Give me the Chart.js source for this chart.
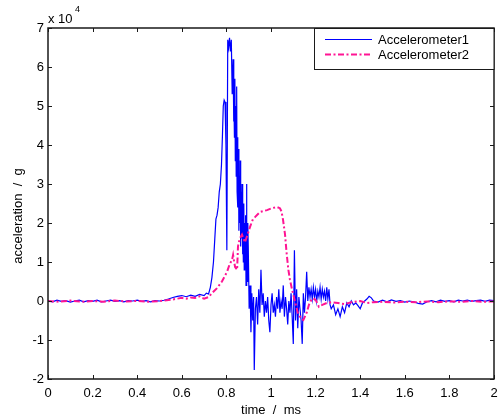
<!DOCTYPE html>
<html>
<head>
<meta charset="utf-8">
<title>Accelerometer traces</title>
<script src="https://cdn.jsdelivr.net/npm/chart.js@4.4.1/dist/chart.umd.min.js"></script>
<style>
  html, body { margin: 0; padding: 0; background: #fff; }
  #chart { display: block; }
</style>
</head>
<body>
<canvas id="chart" width="498" height="419"></canvas>
<script>
// values in units of 1e4 g, time in ms
const blueTime = [
  0.00, 0.02, 0.04, 0.06, 0.08, 0.10, 0.12, 0.14, 0.16, 0.18,
  0.20, 0.22, 0.24, 0.26, 0.28, 0.30, 0.32, 0.34, 0.36, 0.38,
  0.40, 0.42, 0.44, 0.46, 0.48, 0.50, 0.52, 0.54, 0.56, 0.58,
  0.60, 0.62, 0.64, 0.66, 0.68, 0.70, 0.71, 0.72, 0.728, 0.735,
  0.742, 0.748, 0.753, 0.758, 0.763, 0.768, 0.773, 0.778, 0.782, 0.786,
  0.790, 0.794, 0.798, 0.802, 0.806, 0.810, 0.814, 0.818, 0.822, 0.826,
  0.830, 0.832, 0.834, 0.836, 0.838, 0.840, 0.842, 0.844, 0.846, 0.848,
  0.850, 0.852, 0.854, 0.856, 0.858, 0.860, 0.862, 0.864, 0.866, 0.868,
  0.870, 0.872, 0.874, 0.876, 0.878, 0.880, 0.882, 0.884, 0.886, 0.888,
  0.890, 0.892, 0.894, 0.896, 0.898, 0.902, 0.906,
  0.910, 0.914, 0.918, 0.922, 0.925, 0.930, 0.935, 0.940, 0.945, 0.950,
  0.955, 0.960, 0.965, 0.970, 0.975, 0.980, 0.985, 0.990, 0.995, 1.000,
  1.005, 1.010, 1.015, 1.020, 1.025, 1.030, 1.035, 1.040, 1.045, 1.050,
  1.055, 1.060, 1.065, 1.070, 1.075, 1.080, 1.085, 1.090, 1.095, 1.100,
  1.105, 1.110, 1.115, 1.120, 1.125, 1.130, 1.135, 1.140, 1.145, 1.150,
  1.155, 1.160, 1.165, 1.170, 1.175, 1.180, 1.185, 1.190, 1.195, 1.200,
  1.205, 1.210, 1.215, 1.220, 1.225, 1.230, 1.235, 1.240, 1.245, 1.250,
  1.255, 1.260, 1.265, 1.270, 1.280, 1.290, 1.300, 1.310, 1.320, 1.330,
  1.340, 1.350, 1.360, 1.370, 1.380, 1.390, 1.400, 1.410, 1.420, 1.430,
  1.440, 1.450, 1.460, 1.480, 1.500, 1.520, 1.540, 1.560, 1.580, 1.600,
  1.620, 1.640, 1.660, 1.680, 1.700, 1.720, 1.740, 1.760, 1.780, 1.800,
  1.820, 1.840, 1.860, 1.880, 1.900, 1.920, 1.940, 1.960, 1.980, 2.000
];
const blueAcc = [
  0.01, -0.02, 0.02, -0.01, 0.01, -0.03, 0.00, 0.02, -0.02, 0.01,
  -0.01, 0.02, -0.02, 0.00, 0.02, -0.01, 0.01, -0.02, 0.01, 0.00,
  0.02, -0.01, 0.01, -0.02, 0.01, 0.00, 0.02, 0.05, 0.09, 0.12,
  0.14, 0.11, 0.15, 0.12, 0.17, 0.14, 0.20, 0.18, 0.35, 0.6,
  1.0, 1.6, 2.1, 2.2, 2.4, 2.8, 3.0, 3.5, 4.2, 5.0,
  5.15, 5.1, 4.0, 1.3, 6.7, 6.5, 6.75, 6.4, 6.7, 5.3,
  6.2, 4.6, 5.5, 4.2, 5.7, 3.6, 5.0, 3.2, 5.5, 2.8,
  4.2, 2.4, 3.9, 1.8, 3.2, 2.0, 3.6, 1.4, 2.8, 1.6,
  3.0, 1.2, 2.4, 1.0, 2.5, 0.8, 2.0, 1.1, 2.2, 0.4,
  3.0, 0.9, 0.5, 2.0, 1.4, -0.2, 0.4,
  -0.8, 0.2, -0.5, 0.1, -1.77, -0.2, 0.1, -0.6, 0.3, -0.3,
  0.8, -0.1, 0.2, -0.4, 0.0, -0.3, 0.1, -0.5, -0.8, -0.1,
  0.2, -0.3, -0.1, -0.4, 0.1, -0.2, 0.3, -0.3, 0.0, -0.2,
  0.4, -0.4, 0.1, -0.2, -0.6, 0.0, -0.3, 0.2, -0.4, -1.1,
  1.3, -0.5, 0.3, -0.7, 0.1, -0.2, -0.5, -1.1, 0.2, -0.3,
  0.1, 0.75, 0.0, 0.35, 0.1, 0.3, 0.05, 0.35, 0.1, 0.3,
  0.0, 0.25, 0.1, 0.35, 0.05, 0.3, 0.1, 0.25, 0.0, 0.35,
  0.05, 0.3, -0.1, -0.2, -0.1, -0.35, -0.2, -0.4, -0.15, -0.3,
  -0.05, -0.15, 0.0, -0.1, -0.05, -0.12, -0.2, -0.05, 0.0, 0.05,
  0.12, 0.08, 0.0, -0.03, 0.02, -0.02, 0.03, -0.01, 0.01, -0.03,
  0.00, -0.02, -0.06, -0.08, -0.02, 0.01, -0.02, 0.02, -0.01, 0.01,
  -0.02, 0.02, 0.00, 0.02, -0.01, 0.01, 0.02, -0.01, 0.02, 0.01
];

const pinkTime = [
  0.00, 0.05, 0.10, 0.15, 0.20, 0.25, 0.30, 0.35, 0.40, 0.45,
  0.50, 0.55, 0.58, 0.60, 0.62, 0.64, 0.66, 0.68, 0.69, 0.70,
  0.72, 0.735, 0.758, 0.780, 0.803, 0.815, 0.825, 0.830, 0.835, 0.839,
  0.848, 0.852, 0.860, 0.870, 0.883, 0.897, 0.906, 0.919, 0.928, 0.950,
  0.982, 1.004, 1.027, 1.040, 1.047, 1.054, 1.063, 1.070, 1.078, 1.085,
  1.095, 1.107, 1.120, 1.135, 1.145, 1.160, 1.170, 1.180, 1.190, 1.200,
  1.215, 1.230, 1.250, 1.270, 1.300, 1.330, 1.360, 1.400, 1.430, 1.460,
  1.500, 1.550, 1.600, 1.650, 1.700, 1.750, 1.800, 1.850, 1.900, 1.950,
  2.000
];
const pinkAcc = [
  0.0, -0.02, 0.01, -0.02, 0.0, -0.02, 0.01, -0.01, 0.0, -0.02,
  0.0, 0.03, 0.06, 0.08, 0.06, 0.09, 0.08, 0.12, 0.08, 0.06,
  0.1, 0.2, 0.33, 0.5, 0.75, 0.95, 1.05, 1.18, 1.0, 0.87,
  0.8, 1.4, 1.6, 1.7, 1.5, 1.74, 1.9, 2.1, 2.15, 2.28,
  2.33, 2.38, 2.41, 2.38, 2.3, 2.08, 1.7, 1.23, 0.8, 0.54,
  0.28, 0.0, -0.3, -0.45, -0.49, -0.3, -0.1, 0.02, 0.07, 0.03,
  -0.15, -0.1, -0.05, -0.03, -0.05, -0.08, -0.03, 0.0, -0.05, -0.03,
  -0.02, -0.04, -0.02, -0.03, -0.01, -0.03, -0.01, -0.02, 0.0, -0.02,
  -0.01
];

const seriesNames = ["Accelerometer1", "Accelerometer2"];
const xTicks = [0, 0.2, 0.4, 0.6, 0.8, 1, 1.2, 1.4, 1.6, 1.8, 2];
const yTicks = [-2, -1, 0, 1, 2, 3, 4, 5, 6, 7];

const FONT = "'Liberation Sans', Arial, sans-serif";
const BLUE = "#0000ff";
const PINK = "#ff1493";
const PINK_DASH = [6, 2.5, 2, 2.5];

function toPoints(xs, ys) {
  return xs.map((x, i) => ({ x: x, y: ys[i] }));
}

// box, inward ticks, legend, y title and the exponent label, drawn MATLAB style
const matlabAxes = {
  id: "matlabAxes",
  afterDraw(chart) {
    const ctx = chart.ctx;
    const area = chart.chartArea;
    const xs = chart.scales.x;
    const ys = chart.scales.y;
    const tick = 4;

    ctx.save();
    ctx.strokeStyle = "#1a1a1a";
    ctx.lineWidth = 1;

    ctx.beginPath();
    xTicks.forEach((v) => {
      const px = Math.round(xs.getPixelForValue(v)) + 0.5;
      ctx.moveTo(px, area.bottom);
      ctx.lineTo(px, area.bottom - tick);
      ctx.moveTo(px, area.top);
      ctx.lineTo(px, area.top + tick);
    });
    yTicks.forEach((v) => {
      const py = Math.round(ys.getPixelForValue(v)) + 0.5;
      ctx.moveTo(area.left, py);
      ctx.lineTo(area.left + tick, py);
      ctx.moveTo(area.right, py);
      ctx.lineTo(area.right - tick, py);
    });
    ctx.stroke();

    ctx.lineWidth = 1.5;
    ctx.strokeRect(area.left, area.top, area.right - area.left, area.bottom - area.top);

    // legend box in the upper right corner
    const lx = 314, ly = area.top, lw = area.right - 314, lh = 41;
    ctx.fillStyle = "#fff";
    ctx.fillRect(lx, ly, lw, lh);
    ctx.lineWidth = 1;
    ctx.strokeRect(lx + 0.5, ly + 0.5, lw - 0.5, lh);

    const rows = [
      { y: ly + 11.5, color: BLUE, width: 1, dash: [] },
      { y: ly + 26.5, color: PINK, width: 2, dash: PINK_DASH }
    ];
    ctx.font = "13px " + FONT;
    ctx.textBaseline = "middle";
    ctx.textAlign = "left";
    rows.forEach((row, i) => {
      ctx.beginPath();
      ctx.setLineDash(row.dash);
      ctx.strokeStyle = row.color;
      ctx.lineWidth = row.width;
      ctx.moveTo(325, row.y);
      ctx.lineTo(372, row.y);
      ctx.stroke();
      ctx.setLineDash([]);
      ctx.fillStyle = "#000";
      ctx.fillText(seriesNames[i], 378, row.y + 1);
    });

    // exponent label above the y axis
    ctx.fillStyle = "#000";
    ctx.font = "13px " + FONT;
    ctx.textBaseline = "alphabetic";
    ctx.fillText("x 10", 48, 23);
    ctx.font = "9px " + FONT;
    ctx.fillText("4", 75, 12);

    // y axis title
    ctx.font = "13px " + FONT;
    ctx.translate(18, 216);
    ctx.rotate(-Math.PI / 2);
    ctx.textAlign = "center";
    ctx.textBaseline = "middle";
    ctx.fillText("acceleration  /  g", 0, 0);
    ctx.restore();
  }
};

document.addEventListener("DOMContentLoaded", function () {
  buildChart();
});

function buildChart() {
  const canvas = document.getElementById("chart");

  new Chart(canvas, {
    type: "line",
    data: {
      datasets: [
        {
          label: seriesNames[0],
          data: toPoints(blueTime, blueAcc),
          borderColor: BLUE,
          borderWidth: 1.2,
          pointRadius: 0,
          tension: 0,
          fill: false,
          order: 1
        },
        {
          label: seriesNames[1],
          data: toPoints(pinkTime, pinkAcc),
          borderColor: PINK,
          borderWidth: 2,
          borderDash: PINK_DASH,
          pointRadius: 0,
          tension: 0,
          fill: false,
          order: 0
        }
      ]
    },
    options: {
      responsive: false,
      animation: false,
      events: [],
      layout: {
        padding: { top: 28, right: 4, left: 0, bottom: 0 }
      },
      plugins: {
        legend: { display: false },
        tooltip: { enabled: false }
      },
      scales: {
        x: {
          type: "linear",
          min: 0,
          max: 2,
          afterFit: (scale) => {
            scale.height = 40;
            scale.paddingLeft = 0;
            scale.paddingRight = 0;
          },
          afterBuildTicks: (scale) => { scale.ticks = xTicks.map((v) => ({ value: v })); },
          grid: { display: false, drawTicks: false },
          border: { display: false },
          ticks: {
            padding: 7,
            color: "#000",
            font: { family: FONT, size: 13 },
            maxRotation: 0,
            autoSkip: false,
            callback: (v) => String(Number(v.toFixed(1)))
          },
          title: {
            display: true,
            text: "time  /  ms",
            color: "#000",
            font: { family: FONT, size: 13 },
            padding: { top: 0, bottom: 1 }
          }
        },
        y: {
          type: "linear",
          min: -2,
          max: 7,
          afterFit: (scale) => {
            scale.width = 48;
            scale.paddingTop = 0;
            scale.paddingBottom = 0;
          },
          afterBuildTicks: (scale) => { scale.ticks = yTicks.map((v) => ({ value: v })); },
          grid: { display: false, drawTicks: false },
          border: { display: false },
          ticks: {
            padding: 4,
            color: "#000",
            font: { family: FONT, size: 13 },
            autoSkip: false,
            callback: (v) => String(v)
          }
        }
      }
    },
    plugins: [matlabAxes]
  });
}
</script>
</body>
</html>
